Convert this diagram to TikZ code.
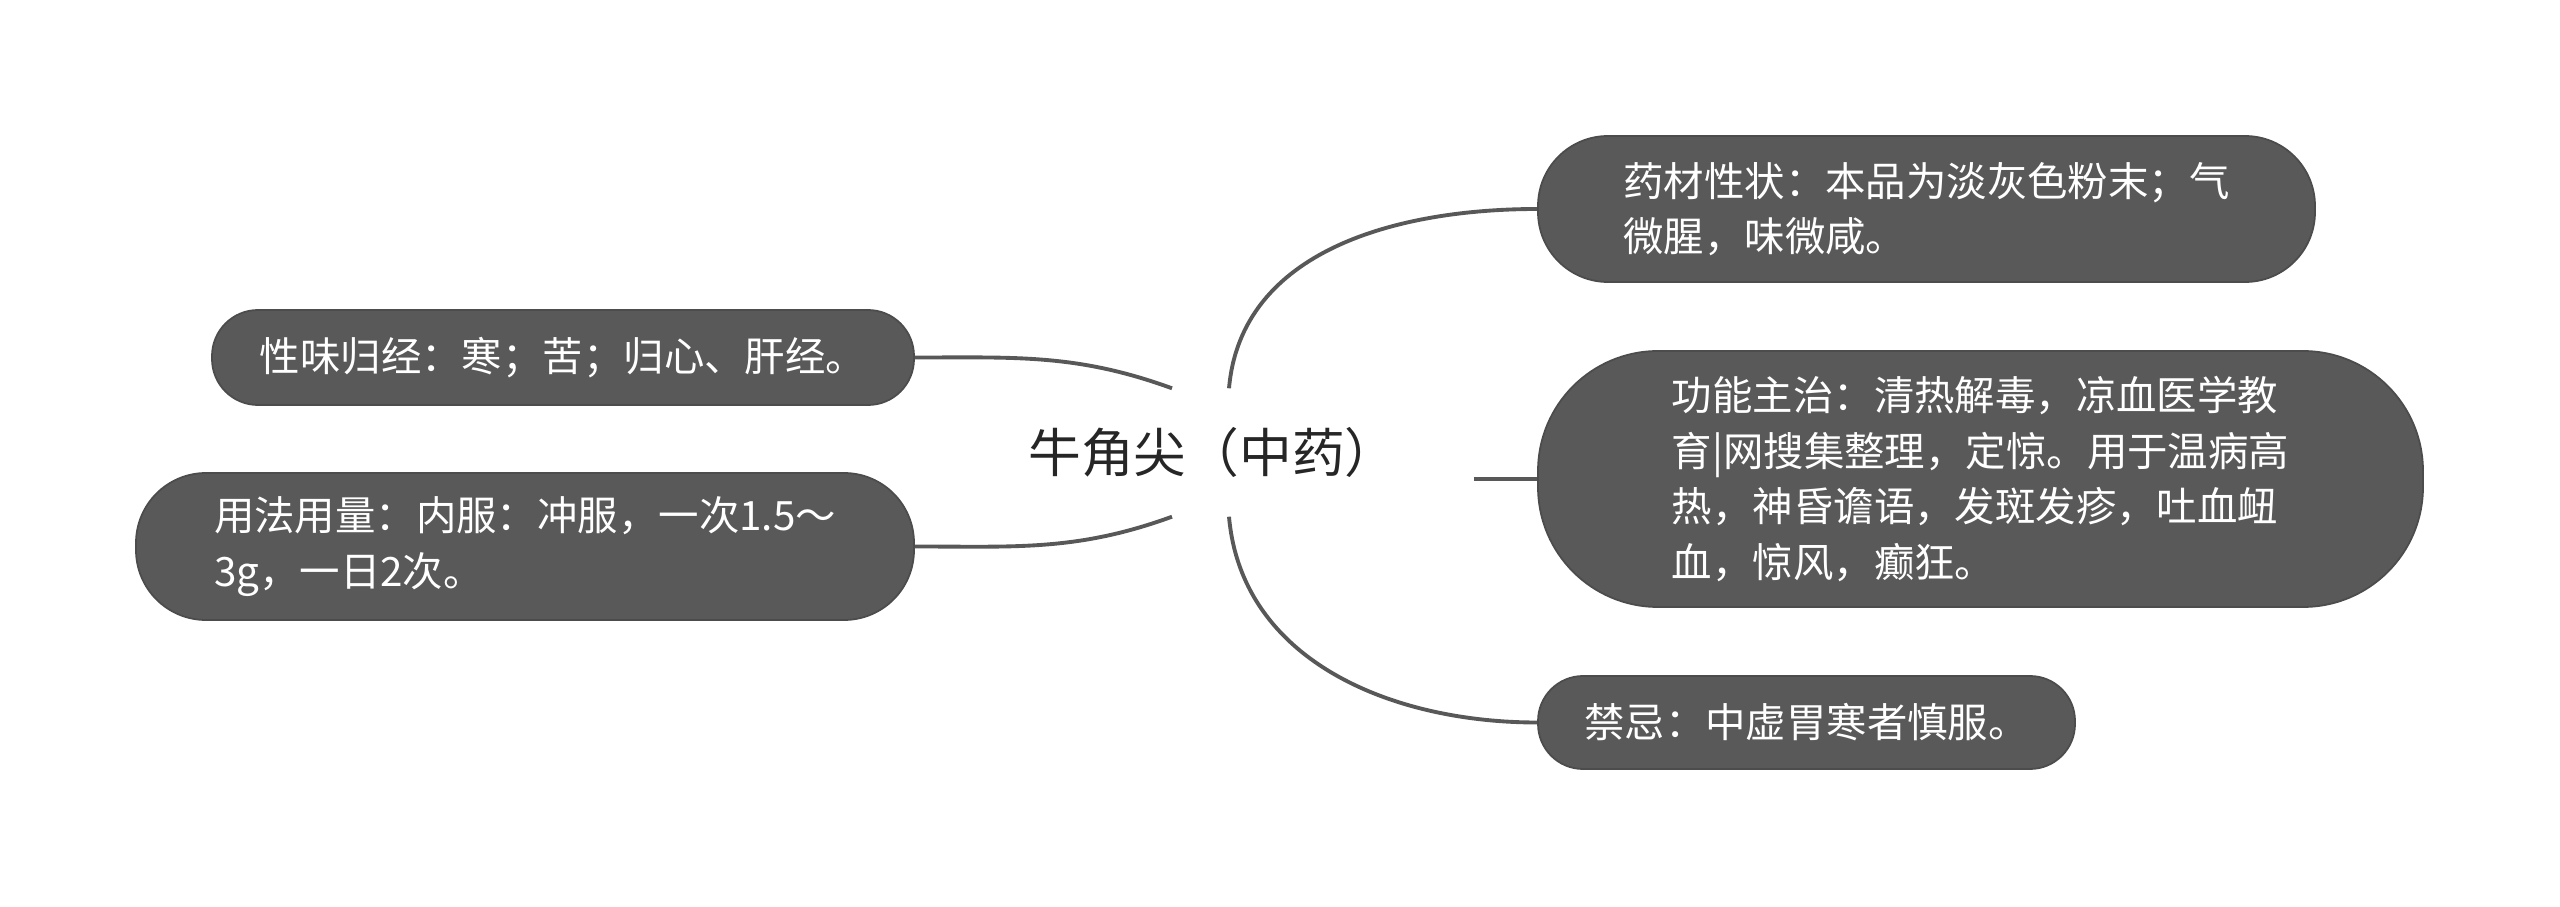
\documentclass[tikz,border=0pt]{standalone}
\usepackage{fontspec}
\setmainfont{Noto Sans CJK SC}
\usepackage{xcolor}
\definecolor{boxgray}{HTML}{595959}
\definecolor{linegray}{HTML}{585858}
\definecolor{rootink}{HTML}{262626}

\begin{document}
\begin{tikzpicture}[every node/.style={inner sep=0pt, align=left},
    leaf/.style={fill=boxgray, draw=boxgray!85!black, line width=0.5pt, text=white,
      font=\fontsize{11.5pt}{15.8pt}\selectfont},
    branch/.style={draw=linegray, line width=1.1pt}]
  \useasboundingbox (0,0) rectangle (25.6,9.06);

  % Centre topic
  \node (root)[minimum width=5.2cm, minimum height=1.27cm, text=rootink,
    font=\fontsize{15pt}{18pt}\selectfont] at (12.13, 4.535) {牛角尖（中药）};
  \coordinate (rNL) at ([xshift=-0.41cm]root.north);
  \coordinate (rNR) at ([xshift=0.16cm]root.north);
  \coordinate (rSL) at ([xshift=-0.41cm]root.south);
  \coordinate (rSR) at ([xshift=0.16cm]root.south);

  % Right side
  \node (xingzhuang)[leaf, minimum width=7.77cm, minimum height=1.46cm, rounded corners=0.7cm]
    at (19.265, 6.97) {药材性状：本品为淡灰色粉末；气\\微腥，味微咸。};
  \node (gongneng)[leaf, minimum width=8.85cm, minimum height=2.56cm, rounded corners=1.2cm]
    at (19.805, 4.27) {功能主治：清热解毒，凉血医学教\\育|网搜集整理，定惊。用于温病高\\热，神昏谵语，发斑发疹，吐血衄\\血，惊风，癫狂。};
  \node (jinji)[leaf, minimum width=5.37cm, minimum height=0.93cm, rounded corners=0.45cm]
    at (18.065, 1.835) {禁忌：中虚胃寒者慎服。};

  % Left side
  \node (xingwei)[leaf, minimum width=7.02cm, minimum height=0.95cm, rounded corners=0.46cm]
    at (5.63, 5.485) {性味归经：寒；苦；归心、肝经。};
  \node (yongfa)[leaf, minimum width=7.78cm, minimum height=1.47cm, rounded corners=0.7cm]
    at (5.25, 3.595) {用法用量：内服：冲服，一次1.5～\\3g，一日2次。};

  % Branches
  \draw[branch] (rNR) to[out=85, in=180] (xingzhuang.west);
  \draw[branch] (gongneng.west -| root.east) -- (gongneng.west);
  \draw[branch] (rSR) to[out=-85, in=180] (jinji.west);
  \draw[branch] (rNL) to[out=160, in=0] (xingwei.east);
  \draw[branch] (rSL) to[out=200, in=0] (yongfa.east);
\end{tikzpicture}
\end{document}
